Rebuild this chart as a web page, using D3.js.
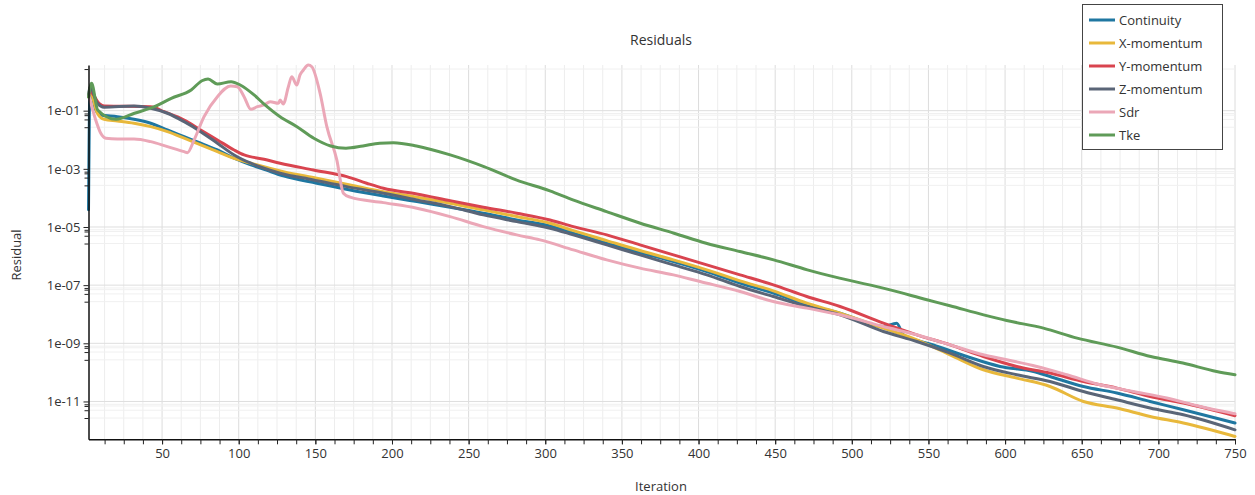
<!DOCTYPE html>
<html><head><meta charset="utf-8">
<script src="https://cdn.jsdelivr.net/npm/d3@7"></script>
<style>body{margin:0;background:#fff;} text{font-family:"Open Sans",sans-serif;}</style>
</head><body><svg id="chart" width="1255" height="495"></svg>
<script>
// ---------- data ----------
const seriesNames = ["Continuity", "X-momentum", "Y-momentum", "Z-momentum", "Sdr", "Tke"];
const seriesColors = ["#1f77a1", "#e8b83b", "#d9444f", "#5a6577", "#eba7b7", "#5f9b58"];

const contIter = [2, 3, 6.7, 10, 20.8, 31.7, 42.6, 53.5, 64.4, 75.2, 86.1, 97, 107.9, 116.5, 129.1, 150.9, 172.7, 194.4, 216.2, 237.9, 259.6, 281.4, 303.1, 318.3, 340.1, 361.8, 383.6, 405.4, 427.1, 448.8, 470.6, 492.3, 520.6, 529.3, 533.6, 553.2, 575, 596.7, 618.5, 629.3, 651.1, 672.9, 694.6, 716.3, 750];
const contVal = [3.9e-5, 6.03e-1, 1.06e-1, 7.11e-2, 6.22e-2, 5.06e-2, 3.69e-2, 2.17e-2, 1.28e-2, 7.59e-3, 4.46e-3, 2.31e-3, 1.36e-3, 9.68e-4, 5.7e-4, 3.2e-4, 1.88e-4, 1.17e-4, 7.46e-5, 4.79e-5, 2.98e-5, 1.75e-5, 1.09e-5, 6.12e-6, 2.77e-6, 1.32e-6, 6.47e-7, 2.93e-7, 1.17e-7, 5.31e-8, 2.1e-8, 1.09e-8, 3.78e-9, 4.94e-9, 1.96e-9, 8.87e-10, 3.52e-10, 1.6e-10, 1.07e-10, 7.23e-11, 3.27e-11, 1.95e-11, 1e-11, 5.19e-12, 1.81e-12];

const xmomIter = [2, 3, 7.8, 12.2, 20.8, 31.7, 42.6, 53.5, 64.4, 75.2, 86.1, 97, 107.9, 129.1, 150.9, 172.7, 194.4, 216.2, 237.9, 259.6, 281.4, 303.1, 318.3, 340.1, 361.8, 383.6, 405.4, 427.1, 448.8, 470.6, 492.3, 520.6, 542.4, 564.1, 585.8, 607.6, 629.3, 651.1, 672.9, 694.6, 716.3, 750];
const xmomVal = [3.0e-1, 4.5e-1, 8.15e-2, 5.06e-2, 4.43e-2, 3.69e-2, 2.82e-2, 1.9e-2, 1.13e-2, 6.62e-3, 3.9e-3, 2.31e-3, 1.56e-3, 8.02e-4, 4.75e-4, 2.8e-4, 1.64e-4, 1.06e-4, 6.58e-5, 3.87e-5, 2.28e-5, 1.35e-5, 7.52e-6, 3.41e-6, 1.55e-6, 7.4e-7, 3.36e-7, 1.41e-7, 6.37e-8, 2.4e-8, 1.09e-8, 3.33e-9, 1.32e-9, 4.03e-10, 1.23e-10, 6.37e-11, 3.27e-11, 1e-11, 5.93e-12, 3.05e-12, 1.81e-12, 6.26e-13];

const ymomIter = [2, 3, 8.9, 12.2, 42.6, 51.3, 64.4, 75.2, 86.1, 97, 103.5, 116.5, 127, 148.7, 170.5, 183.5, 194.4, 216.2, 237.9, 259.6, 281.4, 303.1, 318.3, 340.1, 361.8, 383.6, 405.4, 427.1, 448.8, 470.6, 492.3, 520.6, 542.4, 564.1, 585.8, 607.6, 629.3, 651.1, 672.9, 694.6, 716.3, 750];
const ymomVal = [3.2e-1, 4.5e-1, 1.79e-1, 1.45e-1, 1.37e-1, 9.25e-2, 4.79e-2, 2.17e-2, 9.84e-3, 4.46e-3, 3.01e-3, 2.14e-3, 1.56e-3, 9.16e-4, 5.4e-4, 3.2e-4, 2.15e-4, 1.37e-4, 8.07e-5, 4.79e-5, 2.98e-5, 1.75e-5, 1.03e-5, 5.36e-6, 2.43e-6, 1.1e-6, 4.99e-7, 2.26e-7, 1.02e-7, 4.06e-8, 1.84e-8, 4.94e-9, 1.96e-9, 8.87e-10, 3.52e-10, 1.6e-10, 9.46e-11, 4.86e-11, 2.88e-11, 1.49e-11, 8.81e-12, 3.23e-12];

const zmomIter = [2, 3, 7.8, 12.2, 31.7, 42.6, 53.5, 64.4, 75.2, 86.1, 97, 107.9, 116.5, 127, 148.7, 170.5, 194.4, 216.2, 237.9, 259.6, 281.4, 303.1, 318.3, 340.1, 361.8, 383.6, 405.4, 427.1, 448.8, 470.6, 492.3, 520.6, 542.4, 564.1, 585.8, 607.6, 629.3, 651.1, 672.9, 694.6, 716.3, 750];
const zmomVal = [3.5e-1, 6.68e-1, 1.79e-1, 1.31e-1, 1.45e-1, 1.21e-1, 8.15e-2, 4.19e-2, 1.9e-2, 7.59e-3, 3.01e-3, 1.56e-3, 1.05e-3, 7.06e-4, 4.16e-4, 2.44e-4, 1.45e-4, 8.53e-5, 5.02e-5, 2.61e-5, 1.53e-5, 9.1e-6, 5.36e-6, 2.43e-6, 1.1e-6, 4.99e-7, 2.26e-7, 8.95e-8, 4.06e-8, 1.84e-8, 9.53e-9, 2.54e-9, 1.15e-9, 4.6e-10, 1.6e-10, 8.28e-11, 4.86e-11, 2.21e-11, 1.14e-11, 5.93e-12, 3.49e-12, 1.06e-12];

const sdrIter = [2.4, 6.7, 10, 13.3, 20.8, 31.7, 42.6, 53.5, 64.4, 66.5, 70.9, 77.4, 86.1, 94.8, 99.1, 103.5, 107.9, 112.2, 116.5, 120.5, 125.9, 127, 129.1, 132.4, 134.6, 137.9, 140, 142.2, 145.4, 147.7, 153.1, 157.5, 164, 168.3, 172.7, 194.4, 216.2, 237.9, 259.6, 281.4, 296.6, 318.3, 340.1, 361.8, 383.6, 401, 427.1, 448.8, 470.6, 492.3, 520.6, 542.4, 564.1, 585.8, 601.1, 620.7, 640.3, 662, 683.8, 705.5, 727.3, 750];
const sdrVal = [3.03e-1, 4.79e-2, 1.67e-2, 1.13e-2, 1.06e-2, 1.06e-2, 8.61e-3, 5.79e-3, 3.9e-3, 3.6e-3, 9.84e-3, 6.22e-2, 3.03e-1, 7.06e-1, 6.68e-1, 3.03e-1, 1.12e-1, 1.37e-1, 1.57e-1, 2.04e-1, 1.79e-1, 2.33e-1, 1.7e-1, 6.68e-1, 1.47, 7.64e-1, 1.69, 2.51, 3.72, 3.25, 3.96e-1, 2.82e-2, 2.02e-3, 1.45e-4, 1.06e-4, 6.89e-5, 4.43e-5, 2.28e-5, 1.03e-5, 5.36e-6, 3.61e-6, 1.63e-6, 7.4e-7, 3.84e-7, 2.26e-7, 1.33e-7, 6.03e-8, 2.73e-8, 1.62e-8, 9.53e-9, 3.78e-9, 1.96e-9, 8.87e-10, 4.03e-10, 2.71e-10, 1.6e-10, 8.28e-11, 3.75e-11, 2.21e-11, 1.31e-11, 6.73e-12, 3.78e-12];

const tkeIter = [2, 4, 8, 20, 32, 45, 56, 69, 76, 80, 86, 95, 101, 110, 116, 127, 138, 149, 160, 170, 181, 192, 201, 216, 238, 260, 281, 303, 318, 340, 362, 384, 405, 427, 449, 471, 492, 525, 549, 564, 586, 601, 625, 647, 673, 695, 716, 738, 750];
const tkeVal = [2.95e-1, 8.7e-1, 1.06e-1, 5.06e-2, 8.15e-2, 1.37e-1, 2.67e-1, 5.14e-1, 1.07, 1.23, 8.28e-1, 9.9e-1, 7.64e-1, 3.47e-1, 1.79e-1, 6.22e-2, 2.82e-2, 1.13e-2, 6.12e-3, 5.1e-3, 6.12e-3, 7.59e-3, 7.94e-3, 6.12e-3, 3.01e-3, 1.19e-3, 4.16e-4, 1.74e-4, 8.53e-5, 3.38e-5, 1.35e-5, 6.12e-6, 2.77e-6, 1.43e-6, 7.4e-7, 3.36e-7, 1.74e-7, 6.89e-8, 3.13e-8, 1.95e-8, 9.53e-9, 6.08e-9, 3.33e-9, 1.51e-9, 7.4e-10, 3.52e-10, 2.09e-10, 1.07e-10, 8.28e-11];

const xMajorTicks = [50, 100, 150, 200, 250, 300, 350, 400, 450, 500, 550, 600, 650, 700, 750];
const yMajorTicks = [1e-1, 1e-3, 1e-5, 1e-7, 1e-9, 1e-11];
const yTickLabels = ["1e-01", "1e-03", "1e-05", "1e-07", "1e-09", "1e-11"];
const yMinorFactors = [0.8, 0.7, 0.5, 0.27];

// ---------- layout ----------
const svg = d3.select("#chart");
const L = 88.5, R = 1235, T = 65, B = 439.3;
const x = d3.scaleLinear().domain([2, 750]).range([L, R]);
const y = d3.scaleLog().domain([5e-13, 3.72]).range([B, T]);

const xMinorTicks = d3.range(12.5, 750.1, 12.5);
const yMinorTicks = [];
[10, 1e-1, 1e-3, 1e-5, 1e-7, 1e-9, 1e-11, 1e-13].forEach(m => yMinorFactors.forEach(f => {
  const v = m * f; if (v >= 5e-13 && v <= 3.72) yMinorTicks.push(v);
}));

// grid
const grid = svg.append("g");
grid.selectAll(".vmin").data(xMinorTicks).join("line")
  .attr("x1", d => x(d)).attr("x2", d => x(d)).attr("y1", T).attr("y2", B)
  .attr("stroke", d => d % 50 === 0 ? "#dcdcdc" : "#ededed").attr("stroke-width", 1);
grid.selectAll(".hmin").data(yMinorTicks).join("line")
  .attr("x1", L).attr("x2", R).attr("y1", d => y(d)).attr("y2", d => y(d))
  .attr("stroke", "#f0f0f0").attr("stroke-width", 1);
grid.selectAll(".hmaj").data(yMajorTicks).join("line")
  .attr("x1", L).attr("x2", R).attr("y1", d => y(d)).attr("y2", d => y(d))
  .attr("stroke", "#dedede").attr("stroke-width", 1);

// series
const series = [
  [contIter, contVal], [xmomIter, xmomVal], [ymomIter, ymomVal],
  [zmomIter, zmomVal], [sdrIter, sdrVal], [tkeIter, tkeVal]
];
const line = d3.line().x(d => x(d[0])).y(d => y(d[1])).curve(d3.curveMonotoneX);
const lines = svg.append("g");
series.forEach((s, i) => {
  const pts = s[0].map((it, k) => [it, s[1][k]]);
  lines.append("path").datum(pts).attr("d", line)
    .attr("fill", "none").attr("stroke", seriesColors[i]).attr("stroke-width", 3)
    .attr("stroke-linejoin", "round").attr("stroke-linecap", "round");
});

// axes
const yAxis = svg.append("g").attr("transform", `translate(${L},0)`)
  .call(d3.axisLeft(y).tickValues(yMajorTicks).tickFormat((d, i) => yTickLabels[i]).tickSize(5).tickSizeOuter(0));
svg.append("g").attr("transform", `translate(${L},0)`)
  .call(d3.axisLeft(y).tickValues(yMinorTicks).tickFormat("").tickSize(4).tickSizeOuter(0))
  .call(g => g.select(".domain").remove());
const xAxis = svg.append("g").attr("transform", `translate(0,${B})`)
  .call(d3.axisBottom(x).tickValues(xMajorTicks).tickSize(5).tickSizeOuter(0));
svg.append("g").attr("transform", `translate(0,${B})`)
  .call(d3.axisBottom(x).tickValues(xMinorTicks).tickFormat("").tickSize(5).tickSizeOuter(0))
  .call(g => g.select(".domain").remove());
svg.selectAll(".tick line").attr("stroke", "#222");
svg.selectAll(".domain").attr("stroke", "#111").attr("stroke-width", 1.5);
yAxis.selectAll("text").attr("font-size", 13).attr("fill", "#333").attr("font-family", "Open Sans").attr("x", -8);
xAxis.selectAll("text").attr("font-size", 13).attr("fill", "#333").attr("font-family", "Open Sans").attr("y", 9);

// titles
svg.append("text").attr("x", 661).attr("y", 45).attr("text-anchor", "middle")
  .attr("font-size", 14).attr("fill", "#333").text("Residuals");
svg.append("text").attr("x", 661).attr("y", 491).attr("text-anchor", "middle")
  .attr("font-size", 13).attr("fill", "#333").text("Iteration");
svg.append("text").attr("transform", "translate(21,255) rotate(-90)").attr("text-anchor", "middle")
  .attr("font-size", 13).attr("fill", "#333").text("Residual");

// legend
const lg = svg.append("g");
lg.append("rect").attr("x", 1082.5).attr("y", 4.5).attr("width", 140).attr("height", 145)
  .attr("fill", "#fff").attr("stroke", "#444").attr("stroke-width", 1);
seriesNames.forEach((n, i) => {
  const cy = 20 + i * 23;
  lg.append("line").attr("x1", 1089).attr("x2", 1115).attr("y1", cy).attr("y2", cy)
    .attr("stroke", seriesColors[i]).attr("stroke-width", 3);
  lg.append("text").attr("x", 1119).attr("y", cy + 4.5).attr("font-size", 13).attr("fill", "#333").text(n);
});
</script></body></html>
